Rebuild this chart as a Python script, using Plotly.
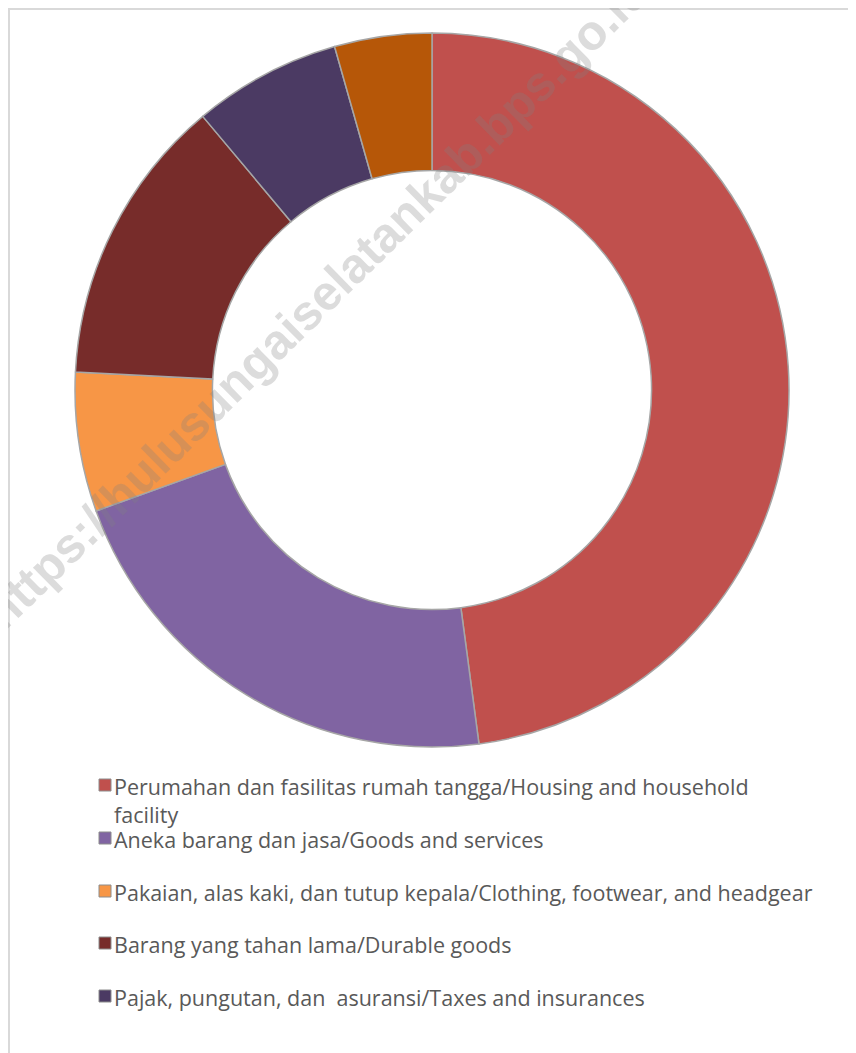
"""Donut chart of non-food expenditure shares, rebuilt with Plotly."""
import plotly.graph_objects as go

# the page body has an 8px margin, so the figure sits 8px in from the corner
OFF = 8
W, H = 856 - OFF, 1053 - OFF

# data (percent of non-food spending)
categories = [
    "Perumahan dan fasilitas rumah tangga/Housing and household facility",
    "Aneka barang dan jasa/Goods and services",
    "Pakaian, alas kaki, dan tutup kepala/Clothing, footwear, and headgear",
    "Barang yang tahan lama/Durable goods",
    "Pajak, pungutan, dan  asuransi/Taxes and insurances",
    "Keperluan pesta dan upacara/Party and ceremony",
]
shares = [47.9, 21.6, 6.3, 13.1, 6.7, 4.4]
colors = ["#C0504D", "#8064A2", "#F79646", "#772C2A", "#4B3A63", "#B65708"]

# legend texts as they wrap in the original (last category is not listed)
legend_texts = [
    "Perumahan dan fasilitas rumah tangga/Housing and household<br>facility",
    "Aneka barang dan jasa/Goods and services",
    "Pakaian, alas kaki, dan tutup kepala/Clothing, footwear, and headgear",
    "Barang yang tahan lama/Durable goods",
    "Pajak, pungutan, dan  asuransi/Taxes and insurances",
]
legend_rows = [785, 838, 891, 943, 996]  # pixel centre of each first line

watermark = "https://hulusungaiselatankab.bps.go.id"


def px(x):
    return (x - OFF) / W


def py(y):
    return 1 - (y - OFF) / H


fig = go.Figure()
fig.add_trace(go.Pie(
    labels=categories,
    values=shares,
    hole=0.615,
    sort=False,
    direction="clockwise",
    rotation=0,
    marker=dict(colors=colors, line=dict(color="#A6A6A6", width=1.5)),
    textinfo="none",
    hoverinfo="label+percent",
    showlegend=False,
    domain=dict(x=[px(75), px(789)], y=[py(747), py(33)]),
))

shapes = [
    # light frame along top and left edge
    dict(type="line", xref="paper", yref="paper", x0=0, x1=1, y0=py(9), y1=py(9),
         line=dict(color="#D9D9D9", width=2)),
    dict(type="line", xref="paper", yref="paper", x0=px(9), x1=px(9), y0=0, y1=py(9),
         line=dict(color="#D9D9D9", width=2)),
]
annotations = []
for i, (txt, yc) in enumerate(zip(legend_texts, legend_rows)):
    shapes.append(dict(
        type="rect", xref="paper", yref="paper",
        x0=px(99), x1=px(111), y0=py(yc + 6), y1=py(yc - 6),
        fillcolor=colors[i], line=dict(color="#8C8C8C", width=1),
    ))
    annotations.append(dict(
        xref="paper", yref="paper", x=px(112), y=py(yc - 15),
        xanchor="left", yanchor="top", align="left", showarrow=False,
        text=txt, font=dict(family="Open Sans, sans-serif", size=21.5, color="#595959"),
    ))

annotations.append(dict(
    xref="paper", yref="paper", x=px(316), y=py(302),
    xanchor="center", yanchor="middle", showarrow=False, textangle=-44.5,
    text="<b>" + watermark + "</b>",
    font=dict(family="Liberation Sans, Arial, sans-serif", size=49,
              color="rgba(128,128,128,0.28)"),
))

fig.update_layout(
    width=W, height=H,
    margin=dict(l=0, r=0, t=0, b=0),
    paper_bgcolor="white",
    plot_bgcolor="white",
    shapes=shapes,
    annotations=annotations,
)

fig.write_html("out.html")
